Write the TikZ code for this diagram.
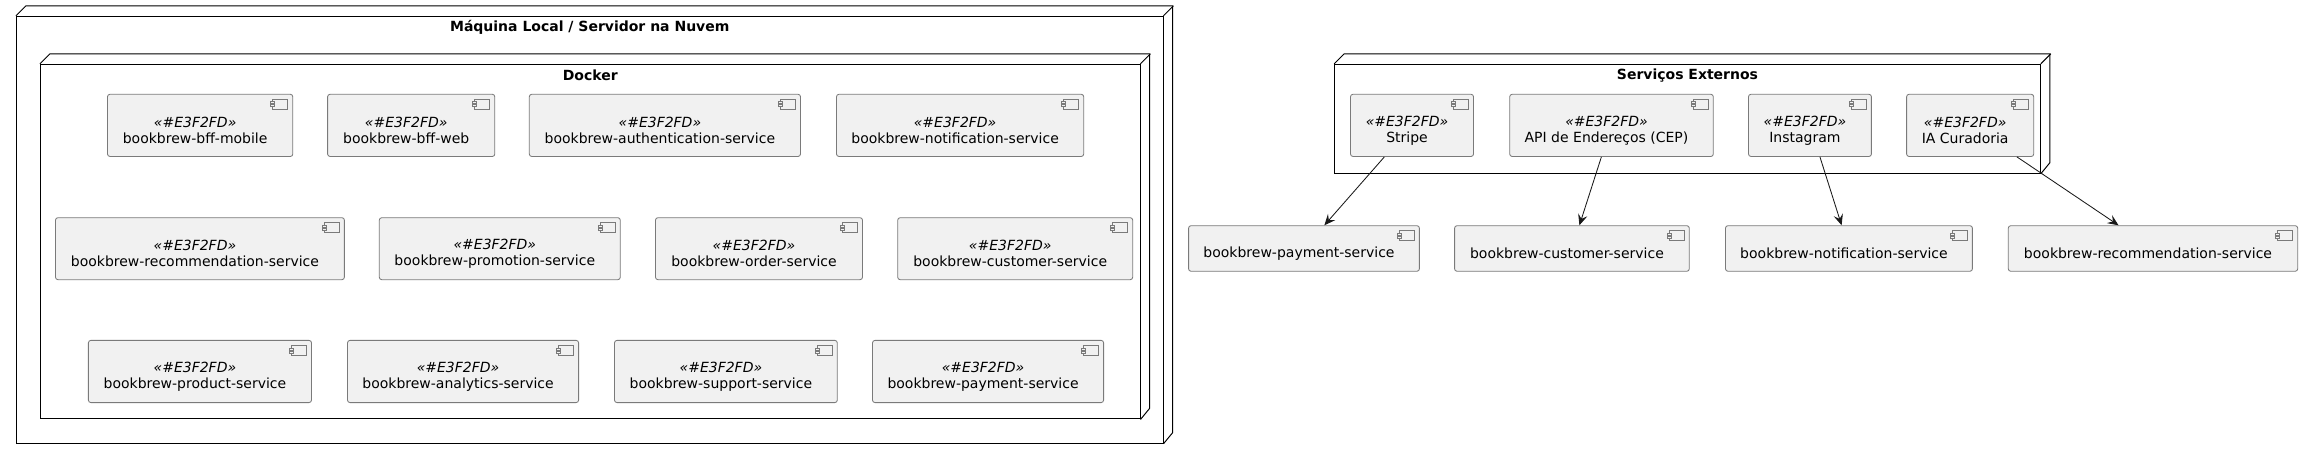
\documentclass[tikz,border=0pt]{standalone}
\usepackage{fontspec}
\setmainfont{DejaVu Sans}
\usetikzlibrary{arrows.meta}
\definecolor{boxfill}{HTML}{F1F1F1}
\definecolor{inkline}{HTML}{181818}
\definecolor{boxline}{HTML}{7A7A7A}
\tikzset{
  compbox/.style={draw=boxline,line width=0.24pt,fill=boxfill,rounded corners=0.7pt,inner sep=0pt},
  comptext/.style={align=center,text=black,font=\fontsize{3.98}{4.55}\selectfont,inner sep=0pt,xshift=-1.42pt,yshift=-1.42pt},
  compicon/.style={draw=boxline,line width=0.2pt,fill=boxfill},
  hostbox/.style={draw=black,line width=0.28pt,inner sep=0pt},
  hostside/.style={draw=black,line width=0.28pt},
  hosttitle/.style={font=\fontsize{3.98}{4.55}\selectfont\bfseries,inner sep=0pt},
  dep/.style={draw=inkline,line width=0.24pt,-{Stealth[length=3.1pt,width=2.7pt,inset=1.2pt]}}
}
% name, left, right, top, bottom, text
\newcommand{\comp}[6]{
  \node[compbox,minimum width={(#3-#2)*0.01cm},minimum height={(#5-#4)*0.01cm},label={[comptext]center:{#6}}] (#1) at ({(#2+#3)/2},{(#4+#5)/2}) {};
  \draw[compicon] (#3-20,#4+5) rectangle (#3-5,#4+15);
  \draw[compicon] (#3-22,#4+7.5) rectangle (#3-18,#4+9.5);
  \draw[compicon] (#3-22,#4+10.5) rectangle (#3-18,#4+12.5);
}
% name, left, right, top, bottom, title
\newcommand{\hostnode}[6]{
  \node[hostbox,minimum width={(#3-#2)*0.01cm},minimum height={(#5-#4)*0.01cm}] (#1) at ({(#2+#3)/2},{(#4+#5)/2}) {};
  \draw[hostside] (#1.north west) -- ++(10,-10) -- ++(#3-#2,0) -- ++(0,#5-#4) -- (#1.south east);
  \draw[hostside] (#1.north east) -- ++(10,-10);
  \node[hosttitle] (#1title) at ({(#2+#3)/2},#4+11) {#6};
}
\newcommand{\stereo}{{\itshape «\#E3F2FD»}\\}
\begin{document}
\begin{tikzpicture}[x=0.01cm,y=-0.01cm]
\useasboundingbox (0,0) rectangle (2302,459);

%Host
\hostnode{host}{16.5}{1163}{16.3}{443.3}{Máquina Local / Servidor na Nuvem}

%Docker
\hostnode{docker}{40.5}{1140}{64.3}{419}{Docker}

\comp{bffmobile}{107.5}{292.8}{94.3}{156.5}{\stereo bookbrew-bff-mobile}
\comp{bffweb}{327.6}{494.8}{94.3}{156.5}{\stereo bookbrew-bff-web}
\comp{authsvc}{529.3}{800.5}{94.3}{156.5}{\stereo bookbrew-authentication-service}
\comp{notifsvc}{836.5}{1083.7}{94.3}{156.5}{\stereo bookbrew-notification-service}

\comp{recosvc}{55.5}{344.4}{217.7}{279.7}{\stereo bookbrew-recommendation-service}
\comp{promosvc}{379.3}{620.3}{217.7}{279.7}{\stereo bookbrew-promotion-service}
\comp{ordersvc}{655.5}{862.5}{217.7}{279.7}{\stereo bookbrew-order-service}
\comp{custsvc}{897.7}{1132.7}{217.7}{279.7}{\stereo bookbrew-customer-service}

\comp{prodsvc}{88.4}{311.5}{340.4}{402.6}{\stereo bookbrew-product-service}
\comp{anasvc}{347.5}{578.6}{340.4}{402.6}{\stereo bookbrew-analytics-service}
\comp{suppsvc}{614.5}{837.3}{340.4}{402.6}{\stereo bookbrew-support-service}
\comp{paysvc}{872.5}{1103.6}{340.4}{402.6}{\stereo bookbrew-payment-service}

%External
\hostnode{ext}{1334.7}{2040.3}{64.3}{173.3}{Serviços Externos}

\comp{stripe}{1350.5}{1473.5}{94.3}{156.5}{\stereo Stripe}
\comp{cepapi}{1509.7}{1713.3}{94.3}{156.5}{\stereo API de Endereços (CEP)}
\comp{instagram}{1748.5}{1871.4}{94.3}{156.5}{\stereo Instagram}
\comp{curadoria}{1906.6}{2033.7}{94.3}{156.5}{\stereo IA Curadoria}

%Targets
\comp{paytarget}{1188.6}{1419.4}{225.7}{271.3}{bookbrew-payment-service}
\comp{custtarget}{1454.6}{1689.3}{225.7}{271.3}{bookbrew-customer-service}
\comp{notiftarget}{1725.5}{1972.4}{225.7}{271.3}{bookbrew-notification-service}
\comp{recotarget}{2008.3}{2297.7}{225.7}{271.3}{bookbrew-recommendation-service}

%Arrows
\draw[dep] (stripe) -- (paytarget);
\draw[dep] (cepapi) -- (custtarget);
\draw[dep] (instagram) -- (notiftarget);
\draw[dep] (curadoria) -- (recotarget);
\end{tikzpicture}
\end{document}
